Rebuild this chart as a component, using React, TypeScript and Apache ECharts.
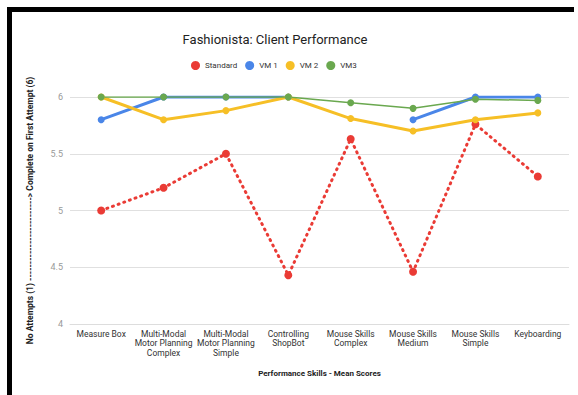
import React, { useEffect, useRef } from "react";
import * as echarts from "echarts";

const categories = [
  "Measure Box",
  "Multi-Modal\nMotor Planning\nComplex",
  "Multi-Modal\nMotor Planning\nSimple",
  "Controlling\nShopBot",
  "Mouse Skills\nComplex",
  "Mouse Skills\nMedium",
  "Mouse Skills\nSimple",
  "Keyboarding",
];
const standard = [5.0, 5.2, 5.5, 4.43, 5.63, 4.46, 5.76, 5.3];
const vm1 = [5.8, 6, 6, 6, null, 5.8, 6, 6];
const vm2 = [6, 5.8, 5.88, 6, 5.81, 5.7, 5.8, 5.86];
const vm3 = [6, 6, 6, 6, 5.95, 5.9, 5.98, 5.97];
const yTicks = [4, 4.5, 5, 5.5, 6];

export default function App() {
  const ref = useRef<HTMLDivElement>(null);
  useEffect(() => {
    const chart = echarts.init(ref.current!, null, { renderer: "svg" });
    const font = "Roboto, 'Noto Sans', sans-serif";
    chart.setOption({
      animation: false,
      backgroundColor: "#fff",
      textStyle: { fontFamily: font },
      title: {
        text: "Fashionista: Client Performance",
        left: 270,
        textAlign: "center",
        top: 28,
        textStyle: { fontSize: 13, fontWeight: "normal", color: "#222", fontFamily: font },
      },
      legend: {
        top: 56,
        left: 186,
        icon: "circle",
        itemWidth: 9,
        itemHeight: 9,
        itemGap: 8,
        textStyle: { fontSize: 8, color: "#333", fontFamily: font },
        data: ["Standard", "VM 1", "VM 2", "VM3"],
      },
      grid: { left: 70, right: 9, top: 97, bottom: 71, containLabel: false },
      xAxis: {
        type: "category",
        data: categories,
        boundaryGap: true,
        name: "Performance Skills - Mean Scores",
        nameLocation: "middle",
        nameGap: 45,
        nameTextStyle: { fontSize: 8, fontWeight: "bold", color: "#222", fontFamily: font },
        axisLine: { show: true, lineStyle: { color: "#ddd" } },
        axisTick: { show: false },
        axisLabel: { fontSize: 8.5, color: "#333", lineHeight: 9.5, margin: 5, interval: 0, fontFamily: font },
      },
      yAxis: {
        type: "value",
        min: yTicks[0],
        max: yTicks[yTicks.length - 1],
        interval: 0.5,
        name: "No Attempts (1) -------------------------> Complete on First Attempt (6)",
        nameLocation: "middle",
        nameGap: 36,
        nameTextStyle: { fontSize: 8.5, fontWeight: "bold", color: "#222", fontFamily: font },
        axisLine: { show: false },
        axisTick: { show: false },
        axisLabel: { fontSize: 9, color: "#999", margin: 7, fontFamily: font },
        splitLine: { lineStyle: { color: "#e0e0e0" } },
      },
      series: [
        {
          name: "Standard",
          type: "line",
          data: standard,
          symbol: "circle",
          symbolSize: 8,
          color: "#ea3b35",
          lineStyle: { width: 3, type: [1, 5], cap: "round" },
        },
        {
          name: "VM 1",
          type: "line",
          data: vm1,
          symbol: "circle",
          symbolSize: 7,
          color: "#4a86e8",
          lineStyle: { width: 3 },
          connectNulls: false,
        },
        {
          name: "VM 2",
          type: "line",
          data: vm2,
          symbol: "circle",
          symbolSize: 7,
          color: "#f6bf26",
          lineStyle: { width: 3 },
        },
        {
          name: "VM3",
          type: "line",
          data: vm3,
          symbol: "circle",
          symbolSize: 7,
          color: "#6aa84f",
          lineStyle: { width: 1.5 },
        },
      ],
      graphic: [
        { type: "rect", shape: { x: 7, y: 7, width: 567, height: 5 }, style: { fill: "#000" }, silent: true },
        { type: "rect", shape: { x: 7, y: 7, width: 5, height: 390 }, style: { fill: "#000" }, silent: true },
      ],
    });
    return () => chart.dispose();
  }, []);
  return (
    <div
      ref={ref}
      style={{ position: "fixed", left: 0, top: 0, width: 578, height: 395 }}
    />
  );
}
